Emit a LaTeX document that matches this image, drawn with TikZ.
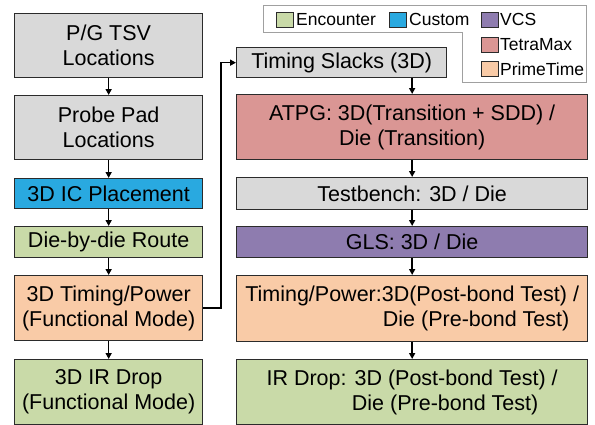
\documentclass[tikz,border=0pt]{standalone}
\usepackage{fontspec}
\setmainfont{Liberation Sans}
\usetikzlibrary{arrows.meta}
\definecolor{bxgray}{HTML}{D9D9D9}
\definecolor{bxblue}{HTML}{29A9E0}
\definecolor{bxgreen}{HTML}{C9DAA8}
\definecolor{bxpeach}{HTML}{F9CBA7}
\definecolor{bxred}{HTML}{DA9694}
\definecolor{bxpurple}{HTML}{8E7CAF}
\definecolor{bxedge}{HTML}{2B2B2B}
\definecolor{lgedge}{HTML}{A0A0A0}
\tikzset{
  box/.style={draw=bxedge, line width=1.3pt, inner sep=0pt, anchor=north west,
    align=center, font=\fontsize{21.5}{25}\selectfont, text=black},
  arr/.style={draw=black, line width=1.6pt, -{Triangle[length=6pt,width=6pt]}},
  lgsq/.style={draw=bxedge, line width=0.9pt, minimum width=17pt, minimum height=15pt,
    inner sep=0pt, anchor=west},
  lgtxt/.style={font=\fontsize{17.5}{20}\selectfont, inner sep=0pt, anchor=west}
}
\begin{document}
\begin{tikzpicture}[x=1pt,y=-1pt]
\useasboundingbox (0,0) rectangle (595,424);
% left column
\node[box, fill=bxgray, minimum width=188pt, minimum height=64pt] (l1) at (14,13) {P/G TSV\\Locations};
\node[box, fill=bxgray, minimum width=188pt, minimum height=64pt] (l2) at (14,95) {Probe Pad\\Locations};
\node[box, fill=bxblue, minimum width=188pt, minimum height=30pt] (l3) at (14,178) {3D IC Placement};
\node[box, fill=bxgreen, minimum width=188pt, minimum height=31pt] (l4) at (14,226) {Die-by-die Route};
\node[box, fill=bxpeach, minimum width=188pt, minimum height=65pt] (l5) at (14,275) {3D Timing/Power\\(Functional Mode)};
\node[box, fill=bxgreen, minimum width=188pt, minimum height=65pt] (l6) at (14,359) {3D IR Drop\\(Functional Mode)};
% right column
\node[box, fill=bxgray, minimum width=210pt, minimum height=30pt] (r0) at (236,47) {Timing Slacks (3D)};
\node[box, fill=bxred, minimum width=351pt, minimum height=65pt] (r1) at (236,94) {ATPG: 3D(Transition + SDD) /\\Die (Transition)};
\node[box, fill=bxgray, minimum width=351pt, minimum height=32pt] (r2) at (236,177) {Testbench: 3D / Die};
\node[box, fill=bxpurple, minimum width=351pt, minimum height=31pt] (r3) at (236,226) {GLS: 3D / Die};
\node[box, fill=bxpeach, minimum width=351pt, minimum height=66pt] (r4) at (236,275) {Timing/Power:3D(Post-bond Test) /\\\hspace*{128pt}Die (Pre-bond Test)};
\node[box, fill=bxgreen, minimum width=351pt, minimum height=65pt] (r5) at (236,359) {IR Drop: 3D (Post-bond Test) /\\\hspace*{66pt}Die (Pre-bond Test)};
% arrows
\draw[arr] (l1.south) -- (l2.north);
\draw[arr] (l2.south) -- (l3.north);
\draw[arr] (l3.south) -- (l4.north);
\draw[arr] (l4.south) -- (l5.north);
\draw[arr] (l5.south) -- (l6.north);
\draw[arr] (r0.south -| r1.north) -- (r1.north);
\draw[arr] (r1.south) -- (r2.north);
\draw[arr] (r2.south) -- (r3.north);
\draw[arr] (r3.south) -- (r4.north);
\draw[arr] (r4.south) -- (r5.north);
\coordinate (jog) at (221,0);
\draw[arr] (l5.east) -- (l5.east -| jog) -- (jog |- r0.west) -- (r0.west);
% legend
\draw[draw=lgedge, line width=1pt, fill=white] (263,5) -- (586,5) -- (586,82) -- (462,82) -- (462,32) -- (263,32) -- cycle;
\node[lgsq, fill=bxgreen] (sq1) at (276,19.5) {};
\node[lgtxt] (t1) at (296,19.5) {Encounter};
\node[lgsq, fill=bxblue] (sq2) at (389,19.5) {};
\node[lgtxt] (t2) at (409,19.5) {Custom};
\node[lgsq, fill=bxpurple] (sq3) at (481,19.5) {};
\node[lgtxt] (t3) at (500,19.5) {VCS};
\node[lgsq, fill=bxred] (sq4) at (481,44.5) {};
\node[lgtxt] (t4) at (500,44.5) {TetraMax};
\node[lgsq, fill=bxpeach] (sq5) at (481,69) {};
\node[lgtxt] (t5) at (500,69) {PrimeTime};
\end{tikzpicture}
\end{document}
